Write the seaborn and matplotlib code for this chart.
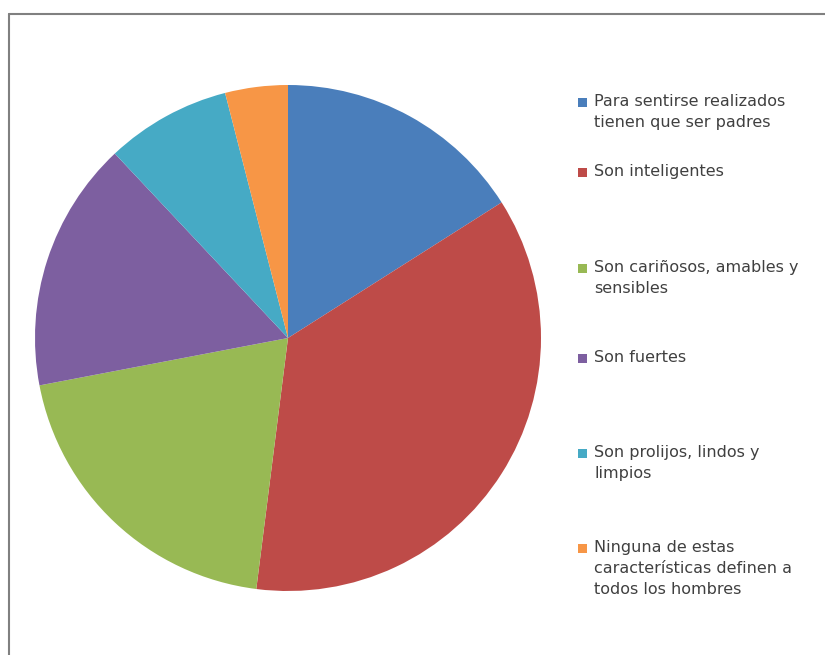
import matplotlib
matplotlib.use("Agg")
import matplotlib.pyplot as plt
import seaborn as sns
from matplotlib.patches import Rectangle
from matplotlib.lines import Line2D

categories = [
    "Para sentirse realizados\ntienen que ser padres",
    "Son inteligentes",
    "Son cariñosos, amables y\nsensibles",
    "Son fuertes",
    "Son prolijos, lindos y\nlimpios",
    "Ninguna de estas\ncaracterísticas definen a\ntodos los hombres",
]
values = [16, 36, 20, 16, 8, 4]
colors = ["#4A7EBB", "#BE4B48", "#98B954", "#7D5FA0", "#46AAC5", "#F79646"]

# legend layout (pixel rows of the first text line of each entry)
legend_top_px = [102, 172, 268, 358, 453, 548]

sns.set_theme(style="white")
plt.rcParams["font.family"] = ["DejaVu Sans"]

W, H = 825, 655
fig = plt.figure(figsize=(W / 100, H / 100), dpi=100)
fig.patch.set_facecolor("white")

cx, cy, r = 288, 338, 253
ax = fig.add_axes([(cx - r) / W, (H - cy - r) / H, 2 * r / W, 2 * r / H])
palette = sns.color_palette(colors)
ax.pie(values, colors=palette, startangle=90, counterclock=False,
       wedgeprops=dict(linewidth=0))
ax.set_xlim(-1, 1)
ax.set_ylim(-1, 1)
ax.set_aspect("equal")
ax.axis("off")

# legend entries
for lab, col, ypx in zip(categories, palette, legend_top_px):
    fig.patches.append(Rectangle(((578) / W, (H - ypx - 5) / H), 9 / W, 9 / H,
                                 transform=fig.transFigure, facecolor=col,
                                 edgecolor="none"))
    fig.text(594 / W, (H - ypx + 8) / H, lab, ha="left", va="top",
             fontsize=11.5, color="#404040", linespacing=1.5)

# chart frame (partially visible)
fig.add_artist(Line2D([9 / W, 1], [1 - 14 / H, 1 - 14 / H], transform=fig.transFigure,
                      color="#808080", linewidth=1.5))
fig.add_artist(Line2D([9 / W, 9 / W], [0, 1 - 14 / H], transform=fig.transFigure,
                      color="#808080", linewidth=1.5))

fig.savefig("out.png", dpi=100, facecolor="white")
